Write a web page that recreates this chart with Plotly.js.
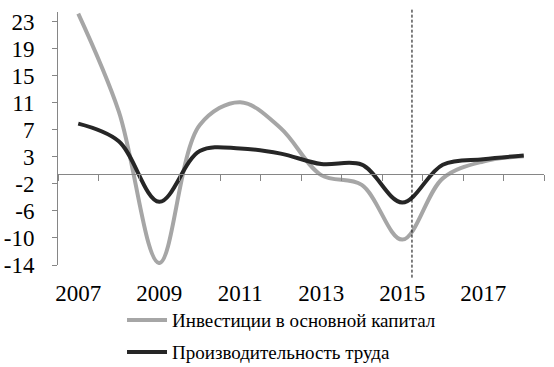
<!DOCTYPE html>
<html>
<head>
<meta charset="utf-8">
<script src="https://cdn.plot.ly/plotly-3.0.1.min.js"></script>
<style>html,body{margin:0;padding:0;background:#fff;}#chart{width:554px;height:367px;}</style>
</head>
<body>
<div id="chart"></div>
<script>
// ---- data ----
const years = [2007, 2008, 2009, 2010, 2011, 2012, 2013, 2014, 2015, 2016, 2017, 2018];
const investment = [24.6, 9.6, -13.7, 7.5, 11.0, 7.0, -0.2, -1.7, -10.1, -0.7, 1.9, 2.7];
const productivity = [7.7, 5.0, -4.3, 3.5, 3.9, 3.1, 1.5, 1.4, -4.4, 1.4, 2.25, 2.8];
const seriesNames = ["Инвестиции в основной капитал", "Производительность труда"];
const seriesColors = ["#A6A6A6", "#262626"];
const xTickVals = [2007, 2009, 2011, 2013, 2015, 2017];
const xTickText = ["2007", "2009", "2011", "2013", "2015", "2017"];
const yTickVals = [-14, -9.85, -5.7, -1.55, 2.6, 6.75, 10.9, 15.05, 19.2, 23.35];
const yTickText = ["-14", "-10", "-6", "-2", "3", "7", "11", "15", "19", "23"];
const boundaryTicks = [2006.5, 2007.5, 2008.5, 2009.5, 2010.5, 2011.5, 2012.5, 2013.5, 2014.5, 2015.5, 2016.5, 2017.5, 2018.5];
const markerYear = 2015.24;

const yRange = [-14, 24.85];
const xRange = [2006.5, 2018.5];
const zeroFrac = (0 - yRange[0]) / (yRange[1] - yRange[0]);
const font = "Liberation Serif, Times New Roman, serif";

const traces = [
  {x: years, y: investment, name: seriesNames[0], type: "scatter", mode: "lines",
   line: {color: seriesColors[0], width: 4, shape: "spline", smoothing: 1}, hoverinfo: "skip"},
  {x: years, y: productivity, name: seriesNames[1], type: "scatter", mode: "lines",
   line: {color: seriesColors[1], width: 4, shape: "spline", smoothing: 1}, hoverinfo: "skip"},
  {x: [xRange[0]], y: [null], xaxis: "x2", yaxis: "y", showlegend: false, hoverinfo: "skip", mode: "lines"}
];

// legend drawn as paper-positioned samples + text
const legendRowsY = [-0.2174, -0.344];
const legendShapes = seriesNames.map((n, i) => ({
  type: "line", xref: "paper", yref: "paper", x0: 0.142, x1: 0.2243, y0: legendRowsY[i], y1: legendRowsY[i],
  line: {color: seriesColors[i], width: 4}
}));
const legendAnn = seriesNames.map((n, i) => ({
  xref: "paper", yref: "paper", x: 0.2305, y: legendRowsY[i], xanchor: "left", yanchor: "middle",
  text: n, showarrow: false, font: {size: 19, family: font, color: "#000"}
}));

const layout = {
  width: 554, height: 367,
  margin: {l: 58, r: 10, t: 12, b: 102},
  paper_bgcolor: "#fff", plot_bgcolor: "rgba(0,0,0,0)",
  font: {family: font, color: "#000", size: 23},
  showlegend: false,
  xaxis: {range: xRange, tickvals: xTickVals, ticktext: xTickText, ticks: "", showline: false,
          showgrid: false, zeroline: false, ticklabelstandoff: 12, tickfont: {size: 23, family: font}},
  xaxis2: {range: xRange, overlaying: "x", anchor: "free", position: zeroFrac, side: "bottom",
           tickvals: boundaryTicks, ticks: "outside", ticklen: 6, tickcolor: "#868686", tickwidth: 1,
           showticklabels: false, showline: true, linecolor: "#868686", linewidth: 1,
           showgrid: false, zeroline: false},
  yaxis: {range: yRange, tickvals: yTickVals, ticktext: yTickText, ticks: "outside", ticklen: 5,
          tickcolor: "#868686", showline: true, linecolor: "#868686", linewidth: 1, showgrid: false,
          zeroline: false, ticklabelstandoff: 13, tickfont: {size: 23, family: font}},
  annotations: legendAnn,
  shapes: [{type: "line", xref: "x", yref: "paper", x0: markerYear, x1: markerYear, y0: -0.05, y1: 1.012,
            line: {color: "#000", width: 1, dash: "3px,2px"}}].concat(legendShapes)
};

Plotly.newPlot("chart", traces, layout, {displayModeBar: false, staticPlot: true});
</script>
</body>
</html>
